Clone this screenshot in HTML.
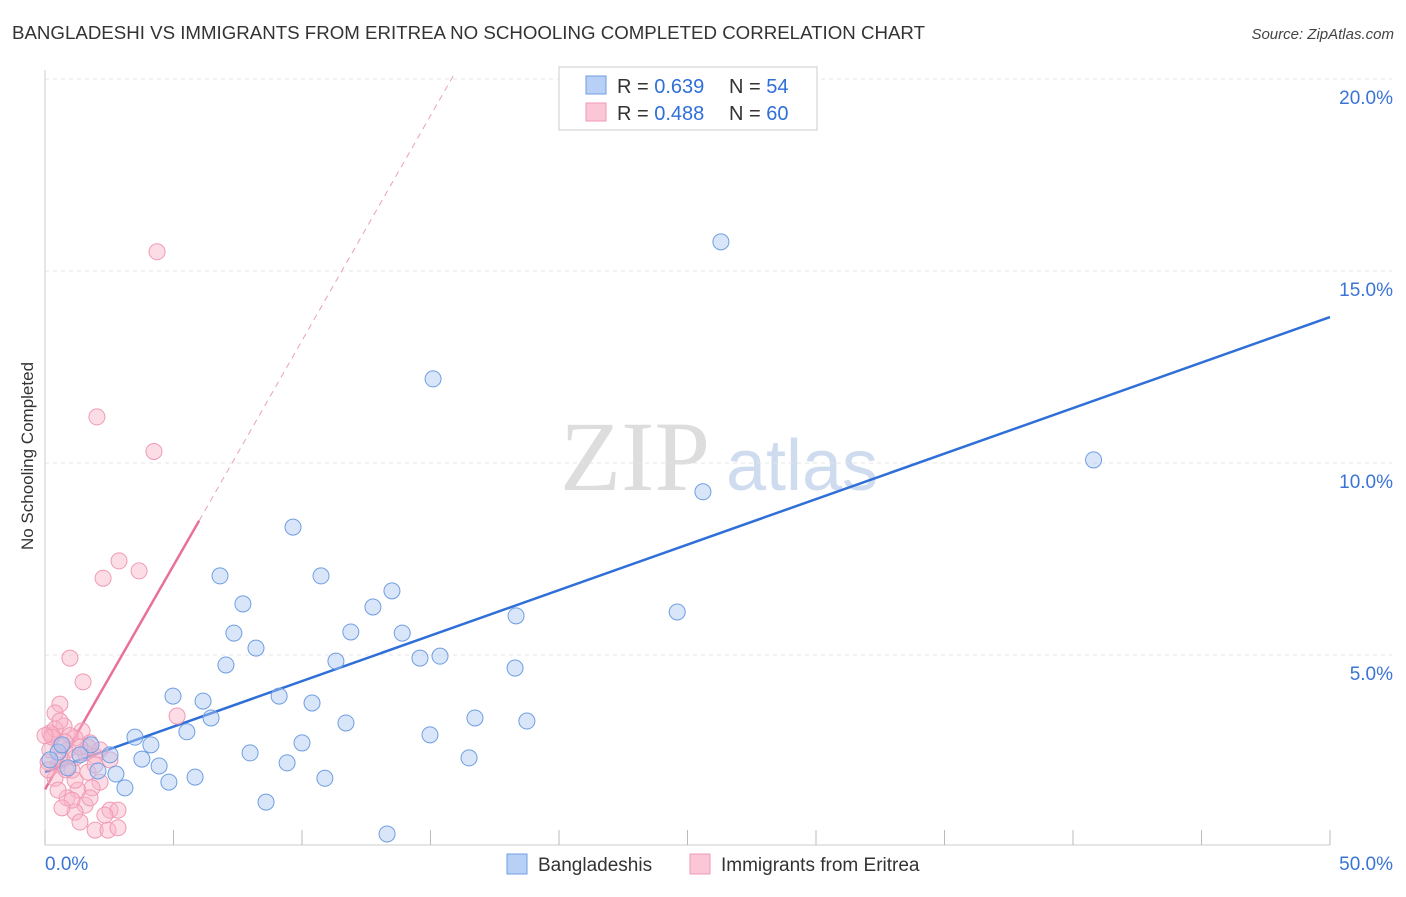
<!DOCTYPE html>
<html><head><meta charset="utf-8"><style>
body{margin:0;background:#fff;font-family:"Liberation Sans",sans-serif}
</style></head><body>
<svg id="chart" width="1406" height="892" viewBox="0 0 1406 892" xmlns="http://www.w3.org/2000/svg" font-family="Liberation Sans, sans-serif">
<text x="12" y="39" font-size="18" fill="#333" textLength="913" lengthAdjust="spacingAndGlyphs">BANGLADESHI VS IMMIGRANTS FROM ERITREA NO SCHOOLING COMPLETED CORRELATION CHART</text>
<text x="1394" y="39" font-size="15" fill="#444" text-anchor="end" font-style="italic">Source: ZipAtlas.com</text>
<text transform="translate(33,456) rotate(-90)" font-size="17" fill="#333" text-anchor="middle">No Schooling Completed</text>
<g>
<text x="635" y="490" font-size="100" fill="#ddd" style="font-family:'Liberation Serif',serif" text-anchor="middle">ZIP</text>
<text x="802" y="490" font-size="72" fill="#cfdcef" text-anchor="middle">atlas</text>
</g>
<g id="grid"></g><g id="axes"></g><g id="lines"></g><g id="pts"></g>
<g>
<rect x="559" y="67" width="258" height="63" fill="#fff" stroke="#ccc"/>
<rect x="586" y="76" width="20" height="18" fill="#b8d0f5" stroke="#6f9ee0"/>
<rect x="586" y="103" width="20" height="18" fill="#fbc6d6" stroke="#f09ab5"/>
<text x="617" y="93" font-size="20" fill="#333">R = <tspan fill="#2f6fd8">0.639</tspan></text>
<text x="729" y="93" font-size="20" fill="#333">N = <tspan fill="#2f6fd8">54</tspan></text>
<text x="617" y="120" font-size="20" fill="#333">R = <tspan fill="#2f6fd8">0.488</tspan></text>
<text x="729" y="120" font-size="20" fill="#333">N = <tspan fill="#2f6fd8">60</tspan></text>
</g>
<g>
<rect x="507" y="854" width="20" height="20" fill="#b8d0f5" stroke="#6f9ee0"/>
<text x="538" y="871" font-size="19" fill="#333">Bangladeshis</text>
<rect x="690" y="854" width="20" height="20" fill="#fbc6d6" stroke="#f09ab5"/>
<text x="721" y="871" font-size="19" fill="#333">Immigrants from Eritrea</text>
</g>
</svg>
<script>
const yTicks=[5,10,15,20];
const yTickLabels=["5.0%","10.0%","15.0%","20.0%"];
const xLabels=["0.0%","50.0%"];
const blueX=[26.3,15.1,40.8,25.6,9.65,6.81,10.74,7.7,13.5,12.76,18.33,24.6,7.35,11.9,13.9,8.21,7.04,11.32,14.59,15.37,18.29,4.98,6.15,9.11,10.39,6.46,11.71,16.73,18.75,5.52,3.5,14.98,4.12,10.0,1.79,2.53,7.98,3.77,16.5,4.44,9.42,2.06,2.76,5.84,4.82,10.89,3.11,8.6,13.31,0.51,0.89,1.36,0.19,0.66];
const blueY=[15.76,12.19,10.08,9.25,8.33,7.06,7.06,6.33,6.67,6.25,6.02,6.12,5.57,5.6,5.57,5.18,4.74,4.84,4.92,4.97,4.66,3.93,3.8,3.93,3.75,3.36,3.23,3.36,3.28,3.0,2.86,2.92,2.66,2.71,2.66,2.4,2.45,2.29,2.32,2.11,2.19,1.98,1.9,1.82,1.69,1.79,1.54,1.17,0.34,2.47,2.06,2.4,2.27,2.66];
const pinkX=[4.36,2.02,4.24,2.88,2.26,3.66,0.97,1.48,0.58,5.14,0.39,0.74,0.19,1.44,1.75,0.27,1.17,0.58,0.89,1.56,1.95,0.12,0.51,1.05,1.67,0.39,2.14,1.28,1.83,0.86,1.56,2.53,1.17,2.84,1.36,1.95,2.45,2.84,2.33,0.66,0.19,0.97,0.39,0.78,1.17,1.67,2.14,0.27,0.58,0.0,0.12,1.05,1.75,0.66,1.17,0.51,1.36,1.95,2.53,0.82];
const pinkY=[15.5,11.2,10.3,7.45,7.0,7.19,4.92,4.3,3.72,3.41,3.49,3.15,2.97,3.02,2.71,2.92,2.84,2.63,2.53,2.45,2.37,2.21,2.14,2.0,1.95,1.79,1.69,1.48,1.54,1.28,1.09,0.96,0.91,0.96,0.65,0.44,0.44,0.5,0.83,2.27,2.53,2.9,3.07,2.73,2.32,2.6,2.53,2.86,3.28,2.9,2.01,1.22,1.28,1.02,1.74,1.48,2.6,2.14,2.27,2.01];
const blueLine=[[0,1.95],[50,13.8]];
const pinkSolid=[[0,1.5],[6.0,8.5]];
const pinkDash=[[6.0,8.5],[15.9,20.1]];
const X=v=>45+v*25.7, Y=v=>847-v*38.4;
const NS="http://www.w3.org/2000/svg";
function mk(t,a,p){const e=document.createElementNS(NS,t);for(const k in a)e.setAttribute(k,a[k]);document.getElementById(p).appendChild(e);return e;}
let e=mk('line',{x1:45,y1:70,x2:45,y2:845,stroke:'#ccc'},'axes');


e=mk('line',{x1:45,y1:845,x2:1330,y2:845,stroke:'#ccc'},'axes');


for(let i=0;i<=10;i++){e=mk('line',{x1:X(i*5),y1:830,x2:X(i*5),y2:845,stroke:'#bbb'},'axes');

}
yTicks.forEach((t,i)=>{e=mk('line',{x1:45,y1:Y(t),x2:1392,y2:Y(t),stroke:'#e4e4e4','stroke-dasharray':'4,4'},'grid');


e=mk('text',{x:1393,y:Y(t)+25,'font-size':19,fill:'#3a74d6','text-anchor':'end'},'axes');e.textContent=yTickLabels[i];

});
e=mk('text',{x:45,y:870,'font-size':19,fill:'#3a74d6'},'axes');e.textContent=xLabels[0];


e=mk('text',{x:1393,y:870,'font-size':19,fill:'#3a74d6','text-anchor':'end'},'axes');e.textContent=xLabels[1];


pinkX.forEach((v,i)=>{e=mk('circle',{cx:X(v),cy:Y(pinkY[i]),r:8,fill:'rgba(248,180,200,0.45)',stroke:'#f09ab5','stroke-width':1},'pts');

});
blueX.forEach((v,i)=>{e=mk('circle',{cx:X(v),cy:Y(blueY[i]),r:8,fill:'rgba(170,200,245,0.45)',stroke:'#6f9ee0','stroke-width':1},'pts');

});
e=mk('line',{x1:X(blueLine[0][0]),y1:Y(blueLine[0][1]),x2:X(blueLine[1][0]),y2:Y(blueLine[1][1]),stroke:'#2f6fd8','stroke-width':2.5},'lines');


e=mk('line',{x1:X(pinkSolid[0][0]),y1:Y(pinkSolid[0][1]),x2:X(pinkSolid[1][0]),y2:Y(pinkSolid[1][1]),stroke:'#e8709a','stroke-width':2.5},'lines');


e=mk('line',{x1:X(pinkDash[0][0]),y1:Y(pinkDash[0][1]),x2:X(pinkDash[1][0]),y2:Y(pinkDash[1][1]),stroke:'#eaa0b8','stroke-width':1,'stroke-dasharray':'6,5'},'lines');


</script>
</body></html>
